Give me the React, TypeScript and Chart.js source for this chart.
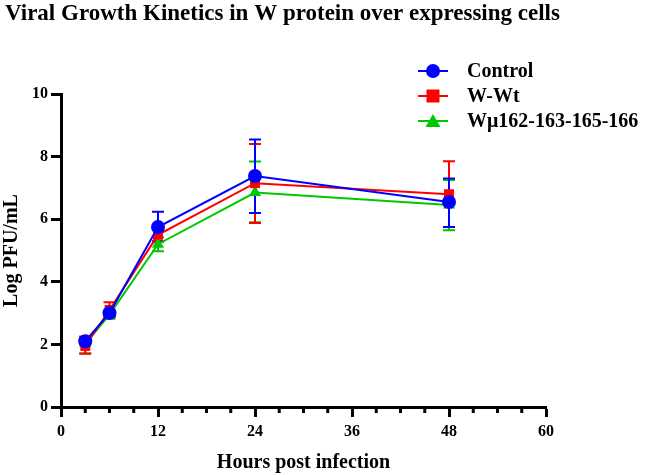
import React, { useEffect, useRef } from "react";
import { Chart, registerables } from "chart.js";

Chart.register(...registerables);

const hours = [3, 6, 12, 24, 48];
const seriesNames = ["Control", "W-Wt", "Wμ162-163-165-166"];
const chartTitle = "Viral Growth Kinetics in W protein over expressing cells";
const controlMean = [2.1, 3.0, 5.75, 7.38, 6.55];
const controlLow = [2.0, 2.9, 5.28, 6.2, 5.75];
const controlHigh = [2.2, 3.1, 6.24, 8.55, 7.3];
const wtMean = [1.95, 3.1, 5.5, 7.15, 6.8];
const wtLow = [1.7, 2.88, 5.3, 5.88, 5.75];
const wtHigh = [2.25, 3.35, 5.7, 8.4, 7.85];
const mutMean = [2.02, 2.95, 5.2, 6.85, 6.45];
const mutLow = [1.72, 2.82, 4.98, 5.9, 5.65];
const mutHigh = [2.2, 3.08, 5.42, 7.84, 7.25];
const xTicks = [0, 12, 24, 36, 48, 60];
const xMinorTicks = [3, 6, 9, 15, 18, 21, 27, 30, 33, 39, 42, 45, 51, 54, 57];
const yTicks = [0, 2, 4, 6, 8, 10];

const colors = ["#0000ff", "#ff0000", "#00c800"];
const shapes = ["circle", "rect", "triangle"];
const means = [controlMean, wtMean, mutMean];
const lows = [controlLow, wtLow, mutLow];
const highs = [controlHigh, wtHigh, mutHigh];

const FONT = "'Liberation Serif', 'Times New Roman', serif";

const errorBarPlugin = {
  id: "errorBars",
  beforeDatasetsDraw(chart: any) {
    const ctx = chart.ctx;
    const xs = chart.scales.x;
    const ys = chart.scales.y;
    ctx.save();
    for (let d = means.length - 1; d >= 0; d--) {
      ctx.strokeStyle = colors[d];
      ctx.lineWidth = 2;
      hours.forEach((h, i) => {
        const x = xs.getPixelForValue(h);
        const yl = ys.getPixelForValue(lows[d][i]);
        const yh = ys.getPixelForValue(highs[d][i]);
        ctx.beginPath();
        ctx.moveTo(x, yl);
        ctx.lineTo(x, yh);
        ctx.moveTo(x - 6, yl);
        ctx.lineTo(x + 6, yl);
        ctx.moveTo(x - 6, yh);
        ctx.lineTo(x + 6, yh);
        ctx.stroke();
      });
    }
    ctx.restore();
  },
  afterDraw(chart: any) {
    const ctx = chart.ctx;
    const xs = chart.scales.x;
    const ys = chart.scales.y;
    ctx.save();
    // title
    ctx.fillStyle = "#000";
    ctx.font = `bold 23px ${FONT}`;
    ctx.textAlign = "left";
    ctx.textBaseline = "middle";
    ctx.fillText(chartTitle, 5, 14);
    // minor ticks
    ctx.strokeStyle = "#000";
    ctx.lineWidth = 3;
    const y0 = ys.getPixelForValue(0);
    xMinorTicks.forEach((v) => {
      const x = xs.getPixelForValue(v);
      ctx.beginPath();
      ctx.moveTo(x, y0);
      ctx.lineTo(x, y0 + 6);
      ctx.stroke();
    });
    // legend
    const lx0 = 418;
    const lx1 = 448;
    const ly = [71, 96, 121];
    seriesNames.forEach((name, d) => {
      const y = ly[d];
      ctx.strokeStyle = colors[d];
      ctx.fillStyle = colors[d];
      ctx.lineWidth = 2;
      ctx.beginPath();
      ctx.moveTo(lx0, y);
      ctx.lineTo(lx1, y);
      ctx.stroke();
      const cx = (lx0 + lx1) / 2;
      ctx.beginPath();
      if (shapes[d] === "circle") {
        ctx.arc(cx, y, 7, 0, Math.PI * 2);
      } else if (shapes[d] === "rect") {
        ctx.rect(cx - 6.5, y - 6.5, 13, 13);
      } else {
        ctx.moveTo(cx, y - 7);
        ctx.lineTo(cx + 7.5, y + 6);
        ctx.lineTo(cx - 7.5, y + 6);
        ctx.closePath();
      }
      ctx.fill();
      ctx.fillStyle = "#000";
      ctx.font = `bold 20px ${FONT}`;
      ctx.textAlign = "left";
      ctx.textBaseline = "middle";
      ctx.fillText(name, 467, y + 1);
    });
    ctx.restore();
  },
};

export default function App() {
  const ref = useRef<HTMLCanvasElement>(null);
  useEffect(() => {
    document.body.style.margin = "0";
    const canvas = ref.current;
    if (!canvas) return;
    const chart = new Chart(canvas, {
      type: "line",
      data: {
        datasets: seriesNames.map((name, d) => ({
          label: name,
          data: hours.map((h, i) => ({ x: h, y: means[d][i] })),
          borderColor: colors[d],
          backgroundColor: colors[d],
          borderWidth: 2,
          pointStyle: shapes[d] as any,
          pointRadius: d === 0 ? 7 : 7,
          pointBorderWidth: 0,
          pointBackgroundColor: colors[d],
          tension: 0,
        })),
      },
      options: {
        animation: false,
        responsive: false,
        layout: { padding: { left: 0, right: 100, top: 94, bottom: 0 } },
        plugins: {
          legend: { display: false },
          tooltip: { enabled: false },
          title: { display: false },
        },
        scales: {
          x: {
            type: "linear",
            min: 0,
            max: 60,
            afterBuildTicks: (s: any) => {
              s.ticks = xTicks.map((v) => ({ value: v }));
            },
            afterFit: (s: any) => {
              s.height = 68;
            },
            ticks: {
              color: "#000",
              font: { family: FONT, size: 16, weight: "bold" },
              padding: 5,
              maxRotation: 0,
            },
            grid: {
              drawOnChartArea: false,
              drawTicks: true,
              tickLength: 10,
              tickColor: "#000",
              tickWidth: 3,
              color: "#000",
            },
            border: { color: "#000", width: 3 },
            title: {
              display: true,
              text: "Hours post infection",
              color: "#000",
              font: { family: FONT, size: 20, weight: "bold" },
              padding: { top: 0, bottom: 0 },
            },
          },
          y: {
            type: "linear",
            min: 0,
            max: 10,
            afterBuildTicks: (s: any) => {
              s.ticks = yTicks.map((v) => ({ value: v }));
            },
            afterFit: (s: any) => {
              s.width = 61;
            },
            ticks: {
              color: "#000",
              font: { family: FONT, size: 16, weight: "bold" },
              padding: 3,
            },
            grid: {
              drawOnChartArea: false,
              drawTicks: true,
              tickLength: 10,
              tickColor: "#000",
              tickWidth: 3,
              color: "#000",
            },
            border: { color: "#000", width: 3 },
            title: {
              display: true,
              text: "Log PFU/mL",
              color: "#000",
              font: { family: FONT, size: 20, weight: "bold" },
              padding: { top: 0, bottom: 0 },
            },
          },
        },
      },
      plugins: [errorBarPlugin],
    });
    return () => chart.destroy();
  }, []);
  return (
    <div style={{ position: "absolute", left: 0, top: 0, width: 646, height: 475 }}>
      <canvas ref={ref} width={646} height={475} />
    </div>
  );
}
